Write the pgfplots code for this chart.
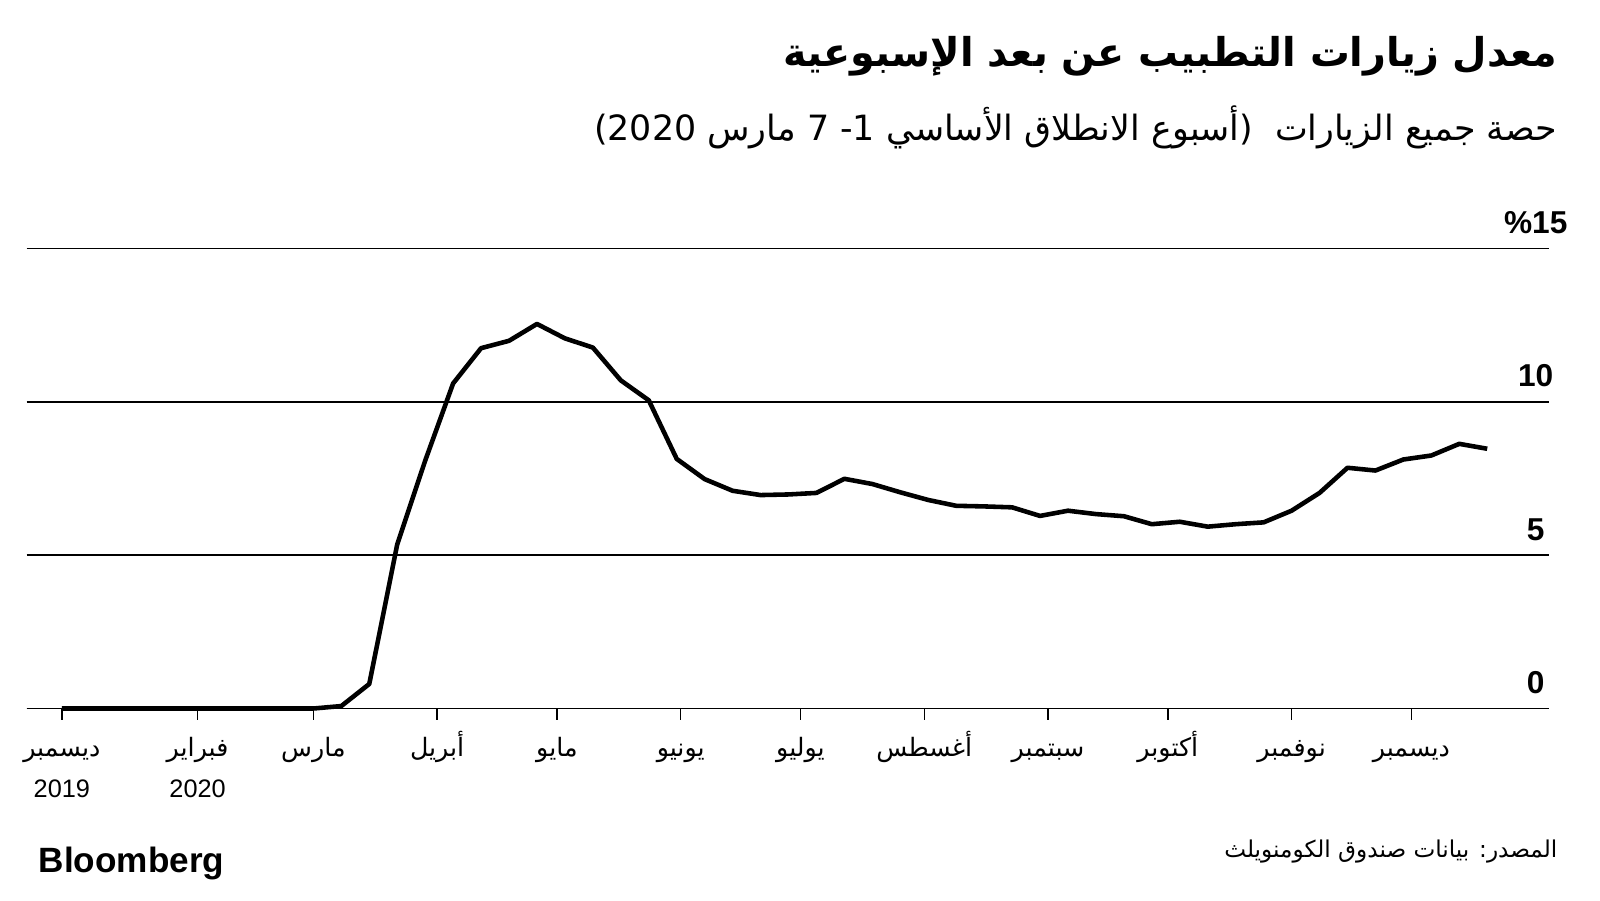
\documentclass[border=0pt]{standalone}
\usepackage{fontspec}
\usepackage{pgfplots}
\usepackage{pgfplotstable}
\pgfplotsset{compat=1.18}
\setmainfont{Liberation Sans}
\newfontfamily\arabicfont[Script=Arabic]{DejaVu Sans}
\TeXXeTstate=1

\pgfplotstableread{
day val
-63 0
-56 0
-49 0
-42 0
-35 0
-28 0
-21 0
-14 0
-7 0
0 0
7 0.08
14 0.8
21 5.35
28 8.08
35 10.6
42 11.75
49 11.99
56 12.54
63 12.07
70 11.77
77 10.7
84 10.05
91 8.14
98 7.48
105 7.10
112 6.96
119 6.98
126 7.03
133 7.49
140 7.32
147 7.05
154 6.8
161 6.61
168 6.59
175 6.56
182 6.28
189 6.45
196 6.34
203 6.27
210 6.01
217 6.09
224 5.93
231 6.01
238 6.07
245 6.45
252 7.03
259 7.85
266 7.76
273 8.12
280 8.25
287 8.63
294 8.47
}\visits

\begin{document}
\begin{tikzpicture}[x=1mm,y=1mm]
\useasboundingbox (0,0) rectangle (160,90);
\begin{axis}[
  at={(2.67mm,19.15mm)}, anchor=south west,
  scale only axis, width=152.2mm, height=46mm,
  xmin=-71.8, xmax=309.4, ymin=0, ymax=15,
  axis x line*=bottom, axis y line*=right,
  x axis line style={line width=0.45pt, -},
  y axis line style={draw=none},
  xtick={-63,-29,0,31,61,92,122,153,184,214,245,275},
  xticklabels={
    {\arabicfont\beginR ديسمبر\endR},
    {\arabicfont\beginR فبراير\endR},
    {\arabicfont\beginR مارس\endR},
    {\arabicfont\beginR أبريل\endR},
    {\arabicfont\beginR مايو\endR},
    {\arabicfont\beginR يونيو\endR},
    {\arabicfont\beginR يوليو\endR},
    {\arabicfont\beginR أغسطس\endR},
    {\arabicfont\beginR سبتمبر\endR},
    {\arabicfont\beginR أكتوبر\endR},
    {\arabicfont\beginR نوفمبر\endR},
    {\arabicfont\beginR ديسمبر\endR}},
  xtick style={black, line width=0.4pt},
  major tick length=1.1mm,
  tick align=outside,
  ytick={0,5,10,15},
  yticklabels={0,5,10,\%15},
  ytick style={draw=none},
  ymajorgrids, grid style={black, line width=0.45pt},
  yticklabel style={anchor=base, xshift=-2.4mm, yshift=1.5mm, font=\bfseries\fontsize{9}{10}\selectfont},
  xticklabel style={anchor=base, yshift=-3.65mm, font=\fontsize{7.2}{9}\selectfont},
  clip=false,
]
\addplot[black, line width=1.3pt, line join=round] table[x=day,y=val]{\visits};
\node[anchor=base, font=\fontsize{7.2}{9}\selectfont, yshift=-8.85mm] at (axis cs:-63,0) {2019};
\node[anchor=base, font=\fontsize{7.2}{9}\selectfont, yshift=-8.85mm] at (axis cs:-29,0) {2020};
\end{axis}
\node[anchor=base east, inner sep=0] at (155.8,83.3) {\resizebox{77.4mm}{!}{\arabicfont\bfseries\beginR معدل زيارات التطبيب عن بعد الإسبوعية\endR}};
\node[anchor=base east, inner sep=0] at (155.8,76.0) {\resizebox{96.3mm}{!}{\arabicfont\beginR حصة جميع الزيارات \ (أسبوع الانطلاق الأساسي \beginL1\endL- \beginL7\endL{} مارس \beginL2020\endL)\endR}};
\node[anchor=base east, inner sep=0] at (155.8,4.3) {\resizebox{33.3mm}{!}{\arabicfont\beginR المصدر: بيانات صندوق الكومنويلث\endR}};
\node[anchor=base west, inner sep=0] at (3.8,2.75) {\bfseries\fontsize{10}{12}\selectfont Bloomberg};
\end{tikzpicture}
\end{document}
